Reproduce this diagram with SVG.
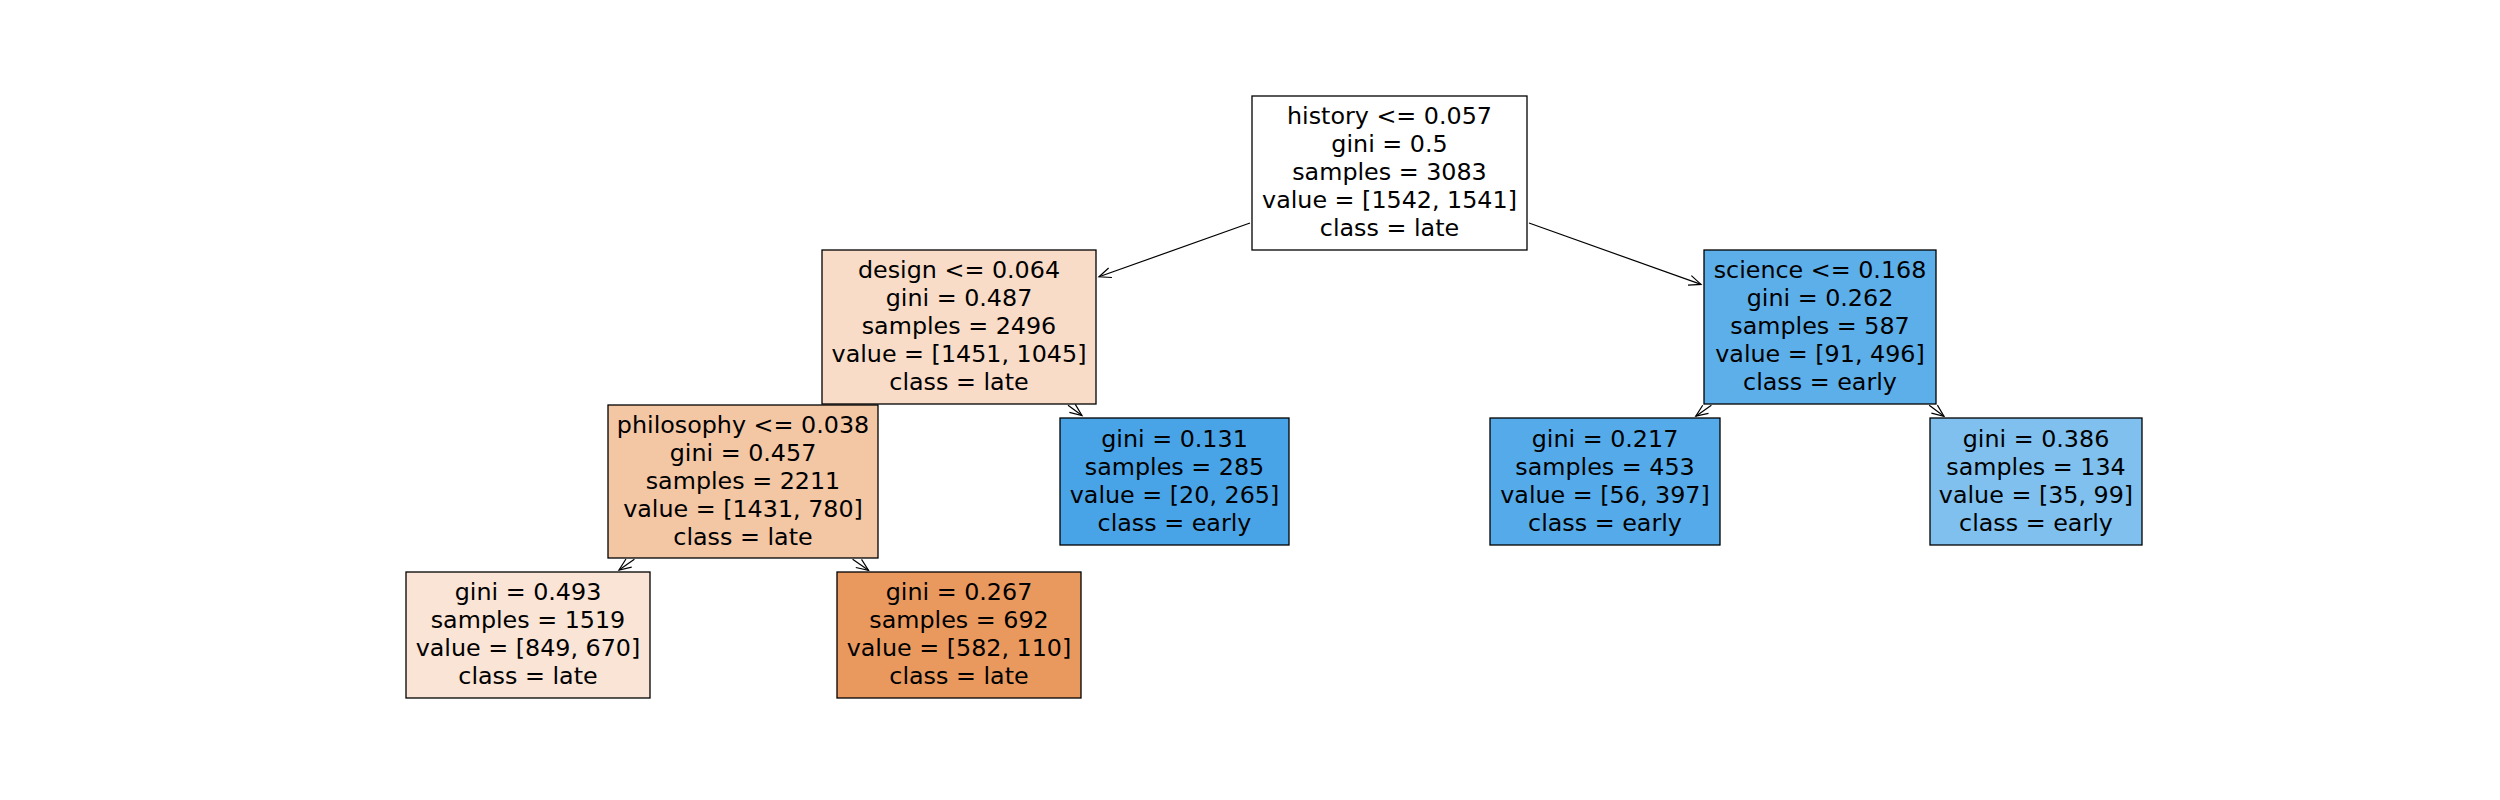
<svg xmlns="http://www.w3.org/2000/svg" width="2500" height="800" viewBox="0 0 2500 800">
<style>
.box{stroke:#000;stroke-width:1.3}
text{font-family:"DejaVu Sans","Liberation Sans",sans-serif;font-size:23.8px;fill:#000;text-anchor:middle}
.edge{stroke:#000;stroke-width:1.2;fill:none}
</style>
<defs>
<marker id="ah" markerUnits="userSpaceOnUse" markerWidth="16" markerHeight="14" viewBox="-14 -7 16 14" refX="0" refY="0" orient="auto">
<path d="M-12,-5 L0,0 L-12,5" fill="none" stroke="#000" stroke-width="1.2"/>
</marker>
</defs>
<rect width="2500" height="800" fill="#fff"/>
<g id="connectors">
<line class="edge" x1="1250" y1="223" x2="1099" y2="276.8" marker-end="url(#ah)"/>
<line class="edge" x1="1529" y1="223" x2="1701" y2="284.4" marker-end="url(#ah)"/>
<line class="edge" x1="1068" y1="405.2" x2="1082" y2="415.5" marker-end="url(#ah)"/>
<line class="edge" x1="634.4" y1="559.2" x2="619" y2="570" marker-end="url(#ah)"/>
<line class="edge" x1="852.6" y1="559.2" x2="868.5" y2="570.3" marker-end="url(#ah)"/>
<line class="edge" x1="1711.4" y1="405.2" x2="1695.8" y2="416.2" marker-end="url(#ah)"/>
<line class="edge" x1="1929.2" y1="405.2" x2="1944" y2="416.3" marker-end="url(#ah)"/>
</g>
<g id="root">
<rect class="box" x="1252" y="96" width="275" height="154" fill="#ffffff"/>
<text x="1389.5" y="124">history &lt;= 0.057</text>
<text x="1389.5" y="152">gini = 0.5</text>
<text x="1389.5" y="180">samples = 3083</text>
<text x="1389.5" y="208">value = [1542, 1541]</text>
<text x="1389.5" y="236">class = late</text>
</g>
<g id="design">
<rect class="box" x="822" y="250" width="274" height="154" fill="#f8dcc7"/>
<text x="959" y="278">design &lt;= 0.064</text>
<text x="959" y="306">gini = 0.487</text>
<text x="959" y="334">samples = 2496</text>
<text x="959" y="362">value = [1451, 1045]</text>
<text x="959" y="390">class = late</text>
</g>
<g id="science">
<rect class="box" x="1704" y="250" width="232" height="154" fill="#5dafea"/>
<text x="1820" y="278">science &lt;= 0.168</text>
<text x="1820" y="306">gini = 0.262</text>
<text x="1820" y="334">samples = 587</text>
<text x="1820" y="362">value = [91, 496]</text>
<text x="1820" y="390">class = early</text>
</g>
<g id="philosophy">
<rect class="box" x="608" y="405" width="270" height="153" fill="#f3c6a4"/>
<text x="743" y="432.5">philosophy &lt;= 0.038</text>
<text x="743" y="460.5">gini = 0.457</text>
<text x="743" y="488.5">samples = 2211</text>
<text x="743" y="516.5">value = [1431, 780]</text>
<text x="743" y="544.5">class = late</text>
</g>
<g id="leaf131">
<rect class="box" x="1060" y="418" width="229" height="127" fill="#48a4e7"/>
<text x="1174.5" y="446.5">gini = 0.131</text>
<text x="1174.5" y="474.5">samples = 285</text>
<text x="1174.5" y="502.5">value = [20, 265]</text>
<text x="1174.5" y="530.5">class = early</text>
</g>
<g id="leaf217">
<rect class="box" x="1490" y="418" width="230" height="127" fill="#55abe9"/>
<text x="1605" y="446.5">gini = 0.217</text>
<text x="1605" y="474.5">samples = 453</text>
<text x="1605" y="502.5">value = [56, 397]</text>
<text x="1605" y="530.5">class = early</text>
</g>
<g id="leaf386">
<rect class="box" x="1930" y="418" width="212" height="127" fill="#7fc0ee"/>
<text x="2036" y="446.5">gini = 0.386</text>
<text x="2036" y="474.5">samples = 134</text>
<text x="2036" y="502.5">value = [35, 99]</text>
<text x="2036" y="530.5">class = early</text>
</g>
<g id="leaf493">
<rect class="box" x="406" y="572" width="244" height="126" fill="#f9e4d5"/>
<text x="528" y="600">gini = 0.493</text>
<text x="528" y="628">samples = 1519</text>
<text x="528" y="656">value = [849, 670]</text>
<text x="528" y="684">class = late</text>
</g>
<g id="leaf267">
<rect class="box" x="837" y="572" width="244" height="126" fill="#ea995e"/>
<text x="959" y="600">gini = 0.267</text>
<text x="959" y="628">samples = 692</text>
<text x="959" y="656">value = [582, 110]</text>
<text x="959" y="684">class = late</text>
</g>
</svg>
